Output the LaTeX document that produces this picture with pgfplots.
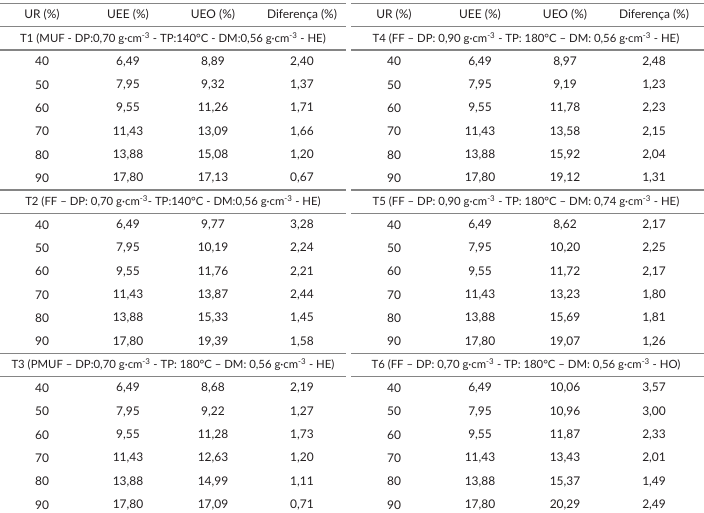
\documentclass[border=0pt]{standalone}
\usepackage{fontspec}
\setmainfont{Lato}
\usepackage{pgfplots}
\usepackage{pgfplotstable}
\pgfplotsset{compat=1.18}
\definecolor{txt}{HTML}{231F20}
\definecolor{rulec}{HTML}{858585}

% left group: T1 (rows 2-7), T2 (rows 9-14), T3 (rows 16-21)
\pgfplotstableread{
row ur uee ueo dif
2  40 6.49 8.89 2.40
3  50 7.95 9.32 1.37
4  60 9.55 11.26 1.71
5  70 11.43 13.09 1.66
6  80 13.88 15.08 1.20
7  90 17.80 17.13 0.67
9  40 6.49 9.77 3.28
10 50 7.95 10.19 2.24
11 60 9.55 11.76 2.21
12 70 11.43 13.87 2.44
13 80 13.88 15.33 1.45
14 90 17.80 19.39 1.58
16 40 6.49 8.68 2.19
17 50 7.95 9.22 1.27
18 60 9.55 11.28 1.73
19 70 11.43 12.63 1.20
20 80 13.88 14.99 1.11
21 90 17.80 17.09 0.71
}\lefttab

% right group: T4, T5, T6
\pgfplotstableread{
row ur uee ueo dif
2  40 6.49 8.97 2.48
3  50 7.95 9.19 1.23
4  60 9.55 11.78 2.23
5  70 11.43 13.58 2.15
6  80 13.88 15.92 2.04
7  90 17.80 19.12 1.31
9  40 6.49 8.62 2.17
10 50 7.95 10.20 2.25
11 60 9.55 11.72 2.17
12 70 11.43 13.23 1.80
13 80 13.88 15.69 1.81
14 90 17.80 19.07 1.26
16 40 6.49 10.06 3.57
17 50 7.95 10.96 3.00
18 60 9.55 11.87 2.33
19 70 11.43 13.43 2.01
20 80 13.88 15.37 1.49
21 90 17.80 20.29 2.49
}\righttab

\newcommand{\tfont}{\fontsize{12}{14}\selectfont}
\newcommand{\hfont}{\fontsize{11.4}{14}\selectfont}
\newcommand{\gcm}{g·cm\textsuperscript{-3}}

\begin{document}
\begin{tikzpicture}
\pgfkeys{/pgf/number format/.cd, use comma, fixed, fixed zerofill, precision=2, assume math mode=true}
\begin{axis}[
  width=704bp, height=513bp, scale only axis,
  xmin=0, xmax=704, ymin=-0.643, ymax=21.343, y dir=reverse,
  hide axis, clip=false,
  every node near coord/.append style={font=\tfont, text=txt, anchor=center},
  tabval/.style={only marks, mark=none, point meta=explicit, nodes near coords},
  urval/.style={only marks, mark=none, point meta=explicit,
     nodes near coords={\pgfmathprintnumber[precision=0]{\pgfplotspointmeta}}},
  hrule/.style={rulec, line width=1.2bp, forget plot},
]
% rules
\addplot[hrule] coordinates {(0,-0.51) (346,-0.51)};
\addplot[hrule] coordinates {(351,-0.51) (704,-0.51)};
\foreach \r in {0.5,1.5,7.5,8.5,14.5,15.5}{
  \addplot[hrule] coordinates {(0,\r) (346,\r)};
  \addplot[hrule] coordinates {(351,\r) (704,\r)};
}
% header
\node[font=\tfont, text=txt] at (axis cs:42,0) {UR (\%)};
\node[font=\tfont, text=txt] at (axis cs:128,0) {UEE (\%)};
\node[font=\tfont, text=txt] at (axis cs:213,0) {UEO (\%)};
\node[font=\tfont, text=txt] at (axis cs:302,0) {Diferença (\%)};
\node[font=\tfont, text=txt] at (axis cs:394,0) {UR (\%)};
\node[font=\tfont, text=txt] at (axis cs:480,0) {UEE (\%)};
\node[font=\tfont, text=txt] at (axis cs:565,0) {UEO (\%)};
\node[font=\tfont, text=txt] at (axis cs:654,0) {Diferença (\%)};
% group titles
\node[font=\hfont, text=txt] at (axis cs:173,1) {T1 (MUF - DP:0,70 \gcm{} - TP:140°C - DM:0,56 \gcm{} - HE)};
\node[font=\hfont, text=txt] at (axis cs:173,8) {T2 (FF – DP: 0,70 \gcm- TP:140°C - DM:0,56 \gcm{} - HE)};
\node[font=\hfont, text=txt] at (axis cs:173,15) {T3 (PMUF – DP:0,70 \gcm{} - TP: 180°C – DM: 0,56 \gcm{} - HE)};
\node[font=\hfont, text=txt] at (axis cs:526,1) {T4 (FF – DP: 0,90 \gcm{} - TP: 180°C – DM: 0,56 \gcm{} - HE)};
\node[font=\hfont, text=txt] at (axis cs:526,8) {T5 (FF – DP: 0,90 \gcm{} - TP: 180°C – DM: 0,74 \gcm{} - HE)};
\node[font=\hfont, text=txt] at (axis cs:526,15) {T6 (FF – DP: 0,70 \gcm{} - TP: 180°C – DM: 0,56 \gcm{} - HO)};
% values, left
\addplot[urval] table[x expr=42, y=row, meta=ur] {\lefttab};
\addplot[tabval] table[x expr=128, y=row, meta=uee] {\lefttab};
\addplot[tabval] table[x expr=213, y=row, meta=ueo] {\lefttab};
\addplot[tabval] table[x expr=302, y=row, meta=dif] {\lefttab};
% values, right
\addplot[urval] table[x expr=394, y=row, meta=ur] {\righttab};
\addplot[tabval] table[x expr=480, y=row, meta=uee] {\righttab};
\addplot[tabval] table[x expr=565, y=row, meta=ueo] {\righttab};
\addplot[tabval] table[x expr=654, y=row, meta=dif] {\righttab};
\end{axis}
\pgfresetboundingbox
\path[use as bounding box] (current axis.south west) rectangle (current axis.north east);
\end{tikzpicture}
\end{document}
